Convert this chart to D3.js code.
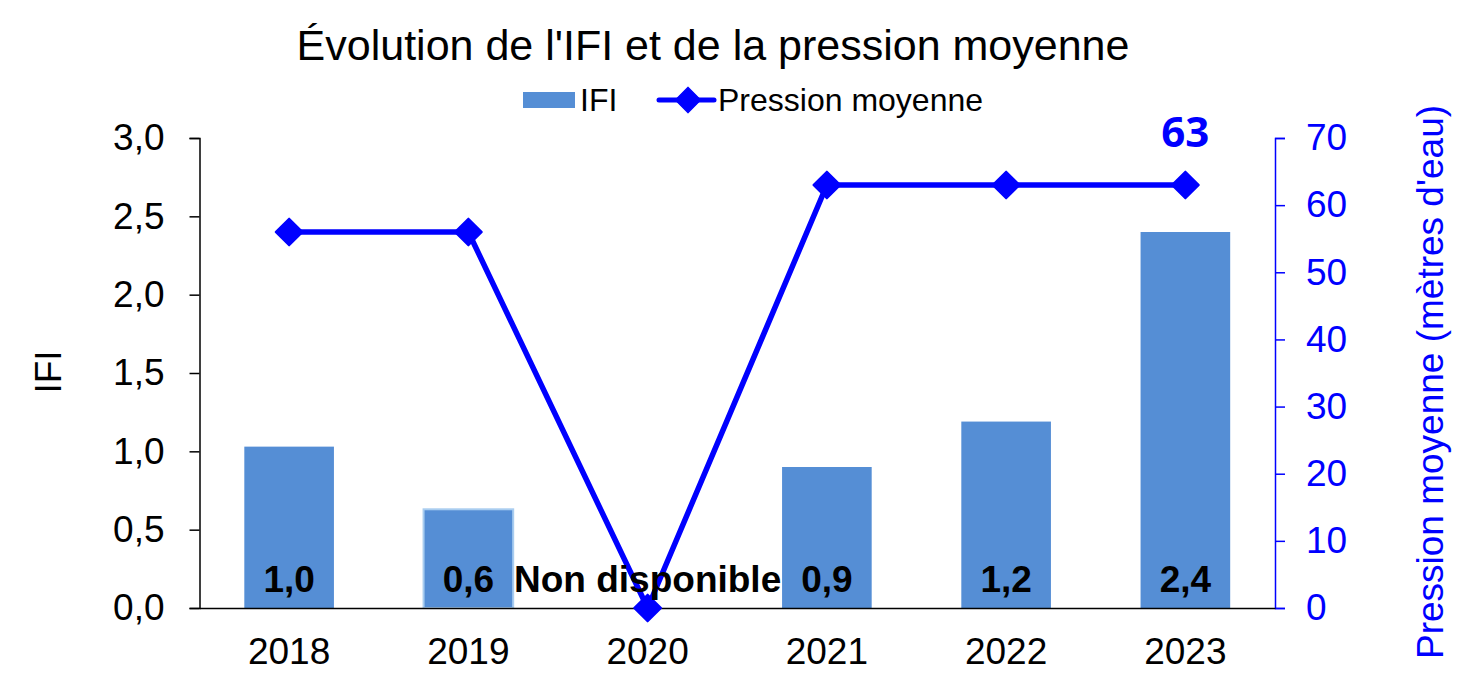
<!DOCTYPE html>
<html>
<head>
<meta charset="utf-8">
<script src="https://cdn.jsdelivr.net/npm/d3@7"></script>
<style>
  body { margin: 0; background: #fff; }
  text { font-family: "Liberation Sans", Arial, sans-serif; }
</style>
</head>
<body>
<div id="chart"></div>
<script>
const years = ['2018', '2019', '2020', '2021', '2022', '2023'];
const ifi = [1.03, 0.63, null, 0.9, 1.19, 2.4];
const ifiLabels = ['1,0', '0,6', 'Non disponible', '0,9', '1,2', '2,4'];
const pression = [56, 56, 0, 63, 63, 63];
const leftTicks = [0, 0.5, 1, 1.5, 2, 2.5, 3];
const rightTicks = [0, 10, 20, 30, 40, 50, 60, 70];

const W = 1461, H = 673;
const margins = { left: 199.5, right: 186, top: 138, bottom: 65 };
const BAR = '#558ed5';
const LINE = '#0000ff';
const FONT = '"Liberation Sans", Arial, sans-serif';

const svg = d3.select('#chart').append('svg')
    .attr('width', W)
    .attr('height', H);

const x = d3.scaleBand()
  .domain(years)
  .range([margins.left, W - margins.right])
  .paddingInner(0.5)
  .paddingOuter(0.25);

const yL = d3.scaleLinear().domain([0, 3]).range([H - margins.bottom, margins.top]);
const yR = d3.scaleLinear().domain([0, 70]).range([H - margins.bottom, margins.top]);

const fmt = d => d3.format('.1f')(d).replace('.', ',');

function translate(a, b) {
  return 'translate(' + a + ',' + b + ')';
}

// bars
svg.append('g')
  .selectAll('rect')
  .data(years.map((d, i) => ({ year: d, v: ifi[i] })).filter(d => d.v !== null))
  .enter()
  .append('rect')
    .attr('x', d => x(d.year))
    .attr('width', x.bandwidth())
    .attr('y', d => yL(d.v))
    .attr('height', d => yL(0) - yL(d.v))
    .attr('fill', BAR)
    .attr('stroke', d => d.year === '2019' ? '#a9cdf0' : 'none')
    .attr('stroke-width', 2);

// left axis
const axL = svg.append('g')
    .attr('transform', translate(margins.left, 0))
    .call(d3.axisLeft(yL).tickValues(leftTicks).tickFormat(fmt).tickSize(10).tickSizeOuter(10).tickPadding(25));
axL.selectAll('text').attr('font-size', 37).attr('fill', '#000').attr('font-family', FONT);
axL.selectAll('line, path').attr('stroke', '#000').attr('stroke-width', 1.5);

// right axis
const axR = svg.append('g')
    .attr('transform', translate(W - margins.right, 0))
    .call(d3.axisRight(yR).tickValues(rightTicks).tickSize(10).tickSizeOuter(10).tickPadding(21));
axR.selectAll('text').attr('font-size', 37).attr('fill', LINE).attr('font-family', FONT);
axR.selectAll('line, path').attr('stroke', LINE).attr('stroke-width', 1.5);

// bottom axis
const axB = svg.append('g')
    .attr('transform', translate(0, yL(0)))
    .call(d3.axisBottom(x).tickSize(0).tickSizeOuter(0).tickPadding(30));
axB.selectAll('text').attr('font-size', 37).attr('fill', '#000').attr('font-family', FONT);
axB.select('path').attr('stroke', '#000').attr('stroke-width', 1.5);

// line
const line = d3.line()
  .x((d, i) => x(years[i]) + x.bandwidth() / 2)
  .y(d => yR(d));

svg.append('path')
    .datum(pression)
    .attr('d', line)
    .attr('fill', 'none')
    .attr('stroke', LINE)
    .attr('stroke-width', 5.5)
    .attr('stroke-linejoin', 'round');

const diamond = d3.symbol().type(d3.symbolSquare).size(360);
svg.append('g')
  .selectAll('path')
  .data(pression)
  .enter()
  .append('path')
    .attr('d', diamond)
    .attr('transform', (d, i) => translate(x(years[i]) + x.bandwidth() / 2, yR(d)) + ' rotate(45)')
    .attr('fill', LINE)
    .attr('stroke', LINE)
    .attr('stroke-width', 2)
    .attr('stroke-linejoin', 'round');

// bar labels
svg.append('g')
  .selectAll('text')
  .data(ifiLabels)
  .enter()
  .append('text')
    .attr('x', (d, i) => x(years[i]) + x.bandwidth() / 2)
    .attr('y', yL(0) - 16)
    .attr('text-anchor', 'middle')
    .attr('font-size', 37)
    .attr('font-weight', 'bold')
    .attr('fill', '#000')
    .text(d => d);

// last value label
const last = pression.length - 1;
svg.append('text')
    .attr('x', x(years[last]) + x.bandwidth() / 2)
    .attr('y', 147)
    .attr('text-anchor', 'middle')
    .attr('font-size', 42)
    .attr('font-weight', 'bold')
    .attr('fill', LINE)
    .style('font-family', '"Open Sans", "Noto Sans", sans-serif')
    .text(pression[last]);

// title
svg.append('text')
    .attr('x', 713)
    .attr('y', 60)
    .attr('text-anchor', 'middle')
    .attr('font-size', 43)
    .attr('fill', '#000')
    .text("Évolution de l'IFI et de la pression moyenne");

// legend
const lg = svg.append('g').attr('transform', translate(523, 100));
lg.append('rect').attr('x', 0).attr('y', -8).attr('width', 52).attr('height', 16).attr('fill', BAR);
lg.append('text').attr('x', 57).attr('y', 11).attr('font-size', 32).attr('fill', '#000').text('IFI');
lg.append('line').attr('x1', 136).attr('x2', 191).attr('y1', 0).attr('y2', 0)
    .attr('stroke', LINE).attr('stroke-width', 5).attr('stroke-linecap', 'round');
lg.append('path').attr('d', d3.symbol().type(d3.symbolSquare).size(330))
    .attr('transform', translate(165, 0) + ' rotate(45)').attr('fill', LINE)
    .attr('stroke', LINE).attr('stroke-width', 1).attr('stroke-linejoin', 'round');
lg.append('text').attr('x', 195).attr('y', 11).attr('font-size', 32).attr('fill', '#000').text('Pression moyenne');

// axis titles
svg.append('text')
    .attr('transform', translate(61, 372) + ' rotate(-90)')
    .attr('text-anchor', 'middle')
    .attr('font-size', 37)
    .attr('fill', '#000')
    .text('IFI');

svg.append('text')
    .attr('transform', translate(1443, 382) + ' rotate(-90)')
    .attr('text-anchor', 'middle')
    .attr('font-size', 37)
    .attr('fill', LINE)
    .text("Pression moyenne (mètres d'eau)");
</script>
</body>
</html>
